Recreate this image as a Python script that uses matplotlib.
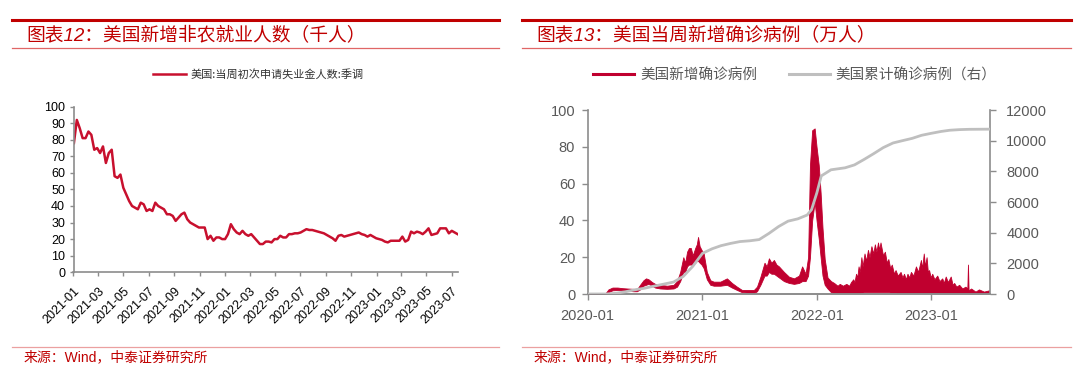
import pandas as pd
import matplotlib
matplotlib.use("Agg")
import matplotlib.pyplot as plt
import matplotlib.dates as mdates
from matplotlib.lines import Line2D

plt.rcParams['font.family'] = ['Liberation Sans', 'Noto Sans CJK SC', 'DejaVu Sans']

# 图表12：美国当周初次申请失业金人数（季调），周度，自 2021-01-02 起
claims_start = "2021-01-02"
claims = [78, 92, 87, 81, 81, 85, 83, 74, 75, 72, 76, 66, 72, 74, 58, 57, 59, 51, 47, 43,
          40, 39, 38, 42, 41, 37, 38, 37, 42, 40, 39, 38, 35, 35, 34, 31, 33, 35, 36, 32,
          30, 29, 28, 27, 27, 27, 20, 22, 19, 21, 21, 20, 20, 23, 29, 26, 24, 23, 25, 23,
          22, 23, 21, 19, 17, 17, 18.5, 18.5, 18, 20, 20, 22, 21, 21, 23, 23, 23.5, 23.5, 24, 25,
          26, 25.5, 25.5, 25, 24.5, 24, 23.5, 22.5, 21.5, 20.5, 19, 22, 22.5, 21.5, 22, 22.5, 23, 23.5, 24, 23,
          22.5, 21.5, 22.5, 21.5, 20.5, 20, 19.5, 18.5, 18, 19, 19, 19, 19, 21.5, 18.5, 19.5, 24.5, 23.5, 24.5, 24,
          23, 24.5, 26.5, 22.5, 23, 23.5, 26.5, 26.5, 26.5, 23.5, 25, 24, 23]
claims_label = "美国:当周初次申请失业金人数:季调"

# 图表13：美国新增确诊病例（万人），日度波动的上沿/下沿
new_dates = ["2020-01-01", "2020-02-25", "2020-03-07", "2020-03-20", "2020-04-05", "2020-04-19",
             "2020-05-05", "2020-05-26", "2020-06-06", "2020-06-16", "2020-06-27", "2020-07-05",
             "2020-07-13", "2020-07-24", "2020-08-03", "2020-08-19", "2020-09-10", "2020-10-01",
             "2020-10-12", "2020-10-22", "2020-11-01", "2020-11-07", "2020-11-13", "2020-11-19",
             "2020-11-25", "2020-12-01", "2020-12-09", "2020-12-14", "2020-12-18", "2020-12-23",
             "2020-12-29", "2021-01-05", "2021-01-10", "2021-01-15", "2021-01-26", "2021-02-06",
             "2021-02-27", "2021-03-20", "2021-04-05", "2021-04-21", "2021-05-07", "2021-06-14",
             "2021-06-24", "2021-07-05", "2021-07-18", "2021-07-25", "2021-08-01", "2021-08-09",
             "2021-08-17", "2021-08-25", "2021-09-02", "2021-09-18", "2021-10-04", "2021-10-20",
             "2021-11-05", "2021-11-15", "2021-11-26", "2021-12-04", "2021-12-10", "2021-12-17",
             "2021-12-25", "2021-12-31", "2022-01-07", "2022-01-13", "2022-01-19", "2022-01-26",
             "2022-02-04", "2022-02-15", "2022-02-25", "2022-03-08", "2022-03-15", "2022-03-25",
             "2022-04-05", "2022-04-14", "2022-04-20", "2022-04-27", "2022-05-01", "2022-05-06",
             "2022-05-10", "2022-05-14", "2022-05-18", "2022-05-23", "2022-05-27", "2022-06-02",
             "2022-06-07", "2022-06-13", "2022-06-18", "2022-06-24", "2022-06-30", "2022-07-05",
             "2022-07-10", "2022-07-15", "2022-07-19", "2022-07-23", "2022-07-31", "2022-08-06",
             "2022-08-12", "2022-08-17", "2022-08-23", "2022-08-28", "2022-09-04", "2022-09-09",
             "2022-09-16", "2022-09-25", "2022-10-01", "2022-10-06", "2022-10-12", "2022-10-17",
             "2022-10-23", "2022-10-28", "2022-11-05", "2022-11-13", "2022-11-20", "2022-11-29",
             "2022-12-03", "2022-12-08", "2022-12-12", "2022-12-17", "2022-12-21", "2022-12-25",
             "2022-12-30", "2023-01-04", "2023-01-11", "2023-01-20", "2023-01-27", "2023-02-05",
             "2023-02-10", "2023-02-16", "2023-02-23", "2023-03-04", "2023-03-10", "2023-03-15",
             "2023-03-22", "2023-03-31", "2023-04-10", "2023-04-20", "2023-04-26", "2023-04-28",
             "2023-04-30", "2023-05-08", "2023-05-22", "2023-06-02", "2023-06-18", "2023-07-04"]
new_high = [0, 0, 2.5, 3.5, 3.5, 3.2,
            3.0, 2.8, 2.5, 5, 7.5, 8.5,
            8, 6.5, 5.5, 5, 4.5, 5,
            7, 12, 20, 17, 23, 25,
            25, 21, 25, 27, 31, 26,
            24, 22, 17, 12, 7.5, 6.7,
            6.7, 8.5, 6, 4, 2.2, 2.2,
            4, 9.4, 17, 15, 19.4, 17,
            18.5, 16, 15, 12, 9.4, 8.5,
            10, 15, 11, 20, 70, 89,
            90, 80, 70, 55, 36, 19,
            9, 7, 6, 4.5, 5.5, 4.5,
            5.5, 4.5, 6.5, 8, 6.5, 11,
            9, 15, 12, 20, 15, 22,
            18, 24, 20, 26, 22, 27,
            23, 28, 24, 28, 21, 23,
            17, 19, 14, 16, 11, 13,
            10, 12, 9, 11, 8, 11,
            9, 12, 10, 15, 12, 18.5,
            14, 22, 15, 20, 12, 13,
            9, 11, 8, 10, 7, 8.5,
            6, 9.5, 6.5, 9.5, 5, 6,
            4, 5, 3, 4, 3, 16,
            2, 3, 1.3, 2.5, 1.3, 2]
new_low = [0, 0, 1, 2, 2.2, 2,
           1.8, 1.5, 1.5, 2.5, 4.5, 5,
           5.5, 4.5, 3.5, 3, 2.8, 3,
           4, 7, 12, 12, 15, 16,
           16, 16, 17, 18, 18, 17,
           16, 14, 11, 8, 5, 4.5,
           4.5, 5, 3.5, 2.2, 1, 0.5,
           1.5, 5, 10, 10, 12, 11,
           11, 10, 9, 7, 6, 5.5,
           6, 7, 7, 10, 20, 40,
           50, 40, 30, 20, 10, 5,
           3, 1, 0.5, 0.5, 0.5, 0.5,
           0.5, 0.5, 0.5, 0.5, 0.5, 0.5,
           0.5, 0.5, 0.5, 0.8, 0.8, 1,
           1, 1, 1, 1, 1, 1,
           1, 1, 1, 1, 1, 1,
           1, 1, 0.8, 0.8, 0.8, 0.8,
           0.5, 0.5, 0.5, 0.5, 0.5, 0.5,
           0.5, 0.5, 0.5, 0.5, 0.5, 0.5,
           0.5, 0.5, 0.5, 0.5, 0.5, 0.5,
           0.5, 0.5, 0.3, 0.3, 0.3, 0.3,
           0.3, 0.3, 0.3, 0.3, 0.3, 0.3,
           0.3, 0.3, 0.3, 0.3, 0.3, 0.3,
           0.2, 0.2, 0.2, 0.2, 0.2, 0.2]

# 美国累计确诊病例（万人，右轴）
cum_dates = ["2020-01-01", "2020-03-01", "2020-04-01", "2020-05-01", "2020-06-01", "2020-07-01",
             "2020-08-01", "2020-09-01", "2020-10-01", "2020-11-01", "2020-12-01", "2021-01-01",
             "2021-02-01", "2021-03-01", "2021-04-01", "2021-05-01", "2021-06-01", "2021-07-01",
             "2021-08-01", "2021-09-01", "2021-10-01", "2021-11-01", "2021-12-01", "2021-12-15",
             "2022-01-01", "2022-01-15", "2022-02-15", "2022-04-01", "2022-05-01", "2022-06-01",
             "2022-07-01", "2022-08-01", "2022-09-01", "2022-10-01", "2022-11-01", "2022-12-01",
             "2023-01-01", "2023-02-01", "2023-03-01", "2023-04-01", "2023-05-01", "2023-07-05"]
cum_cases = [0, 0, 50, 150, 280, 380,
             520, 650, 780, 1150, 1800, 2650,
             2950, 3150, 3300, 3420, 3470, 3550,
             3950, 4400, 4750, 4900, 5150, 5500,
             6600, 7700, 8100, 8230, 8420, 8780,
             9150, 9550, 9850, 10000, 10150, 10350,
             10480, 10600, 10680, 10720, 10740, 10750]
new_label = "美国新增确诊病例"
cum_label = "美国累计确诊病例（右）"

RED = "#C00000"
LINE_RED = "#C8102E"
FILL_RED = "#C0002F"
GRAY_LINE = "#BFBFBF"
AXIS_GRAY = "#8C8C8C"
TXT_GRAY = "#595959"
CJK = ['Noto Sans CJK SC', 'DejaVu Sans']

fig = plt.figure(figsize=(10.8, 3.78), dpi=100)

# 标题与分隔线
for x0, x1, title in [(12, 499, "图表12：美国新增非农就业人数（千人）"),
                      (522, 1071, "图表13：美国当周新增确诊病例（万人）")]:
    fig.add_artist(Line2D([x0 / 1080, x1 / 1080], [1 - 20 / 378] * 2, color=RED, lw=2.2))
    fig.add_artist(Line2D([x0 / 1080, x1 / 1080], [1 - 48 / 378] * 2, color="#E06666", lw=0.9))
    fig.add_artist(Line2D([x0 / 1080, x1 / 1080], [1 - 347 / 378] * 2, color="#EBA0A0", lw=0.9))
    fig.text((x0 + 14) / 1080, 1 - 35 / 378, title, color=RED, fontsize=13.5,
             style='italic', va='center', ha='left')
    fig.text((x0 + 12) / 1080, 1 - 357 / 378, "来源：Wind，中泰证券研究所", color=RED,
             fontsize=10, va='center', ha='left')

# 左图
ax1 = fig.add_axes([73.5 / 1080, 1 - 272.2 / 378, (458 - 73.5) / 1080, (272.2 - 106.7) / 378])
claim_dates = pd.date_range(claims_start, periods=len(claims), freq="7D")
ax1.plot(claim_dates, claims, color=LINE_RED, lw=1.8, label=claims_label)
ax1.set_ylim(0, 100)
ax1.set_yticks(range(0, 101, 10))
ax1.set_xlim(pd.Timestamp("2021-01-01"), pd.Timestamp("2023-07-16"))
ax1.set_xticks(pd.date_range("2021-01-01", "2023-07-01", freq="2MS"))
ax1.xaxis.set_major_formatter(mdates.DateFormatter("%Y-%m"))
for s in ["top", "right"]:
    ax1.spines[s].set_visible(False)
for s in ["left", "bottom"]:
    ax1.spines[s].set_color(AXIS_GRAY)
    ax1.spines[s].set_linewidth(1.2)
ax1.tick_params(axis='both', colors=AXIS_GRAY, labelcolor="black", length=3, width=1,
                labelsize=9)
ax1.tick_params(axis='y', pad=3)
for lab in ax1.get_xticklabels():
    lab.set_rotation(45)
    lab.set_ha('right')
    lab.set_va('top')
    lab.set_rotation_mode('anchor')
ax1.tick_params(axis='x', pad=6)
leg1 = ax1.legend(loc='center', bbox_to_anchor=(258 / 1080, 1 - 74 / 378),
                  bbox_transform=fig.transFigure, frameon=False, handlelength=3.0,
                  handletextpad=0.4, prop={'family': CJK, 'size': 8})
for t in leg1.get_texts():
    t.set_color("#333333")

# 右图
ax2 = fig.add_axes([587.7 / 1080, 1 - 294 / 378, (989.6 - 587.7) / 1080, (294 - 110) / 378])
ax3 = ax2.twinx()
nd = pd.to_datetime(new_dates)
ax2.fill_between(nd, new_low, new_high, color=FILL_RED, lw=0.6, edgecolor=FILL_RED, zorder=2)
ax3.plot(pd.to_datetime(cum_dates), cum_cases, color=GRAY_LINE, lw=2.0, zorder=3)
ax2.set_zorder(ax3.get_zorder() - 1)
ax2.patch.set_visible(False)
ax2.set_ylim(0, 100)
ax2.set_yticks(range(0, 101, 20))
ax3.set_ylim(0, 12000)
ax3.set_yticks(range(0, 12001, 2000))
ax2.set_xlim(pd.Timestamp("2020-01-01"), pd.Timestamp("2023-07-06"))
ax2.set_xticks(pd.to_datetime(["2020-01-01", "2021-01-01", "2022-01-01", "2023-01-01"]))
ax2.xaxis.set_major_formatter(mdates.DateFormatter("%Y-%m"))
for a in (ax2, ax3):
    a.spines["top"].set_visible(False)
    for s in ["left", "right", "bottom"]:
        a.spines[s].set_color(AXIS_GRAY)
        a.spines[s].set_linewidth(1.2)
ax2.spines["right"].set_visible(False)
ax3.spines["left"].set_visible(False)
ax2.tick_params(axis='both', colors=AXIS_GRAY, labelcolor=TXT_GRAY, length=4, width=1,
                labelsize=10.5)
ax2.tick_params(axis='y', pad=5)
ax2.tick_params(axis='x', pad=7)
ax3.tick_params(axis='y', colors=AXIS_GRAY, labelcolor=TXT_GRAY, length=4, width=1,
                labelsize=10.5, pad=8)
handles = [Line2D([], [], color=FILL_RED, lw=2.2), Line2D([], [], color=GRAY_LINE, lw=2.2)]
leg2 = ax2.legend(handles, [new_label, cum_label], loc='center', ncol=2,
                  bbox_to_anchor=(795 / 1080, 1 - 75 / 378), bbox_transform=fig.transFigure,
                  frameon=False, handlelength=2.8, handletextpad=0.4, columnspacing=2.2,
                  prop={'family': CJK, 'size': 10.5})
for t in leg2.get_texts():
    t.set_color(TXT_GRAY)

fig.savefig("out.png", dpi=100)
